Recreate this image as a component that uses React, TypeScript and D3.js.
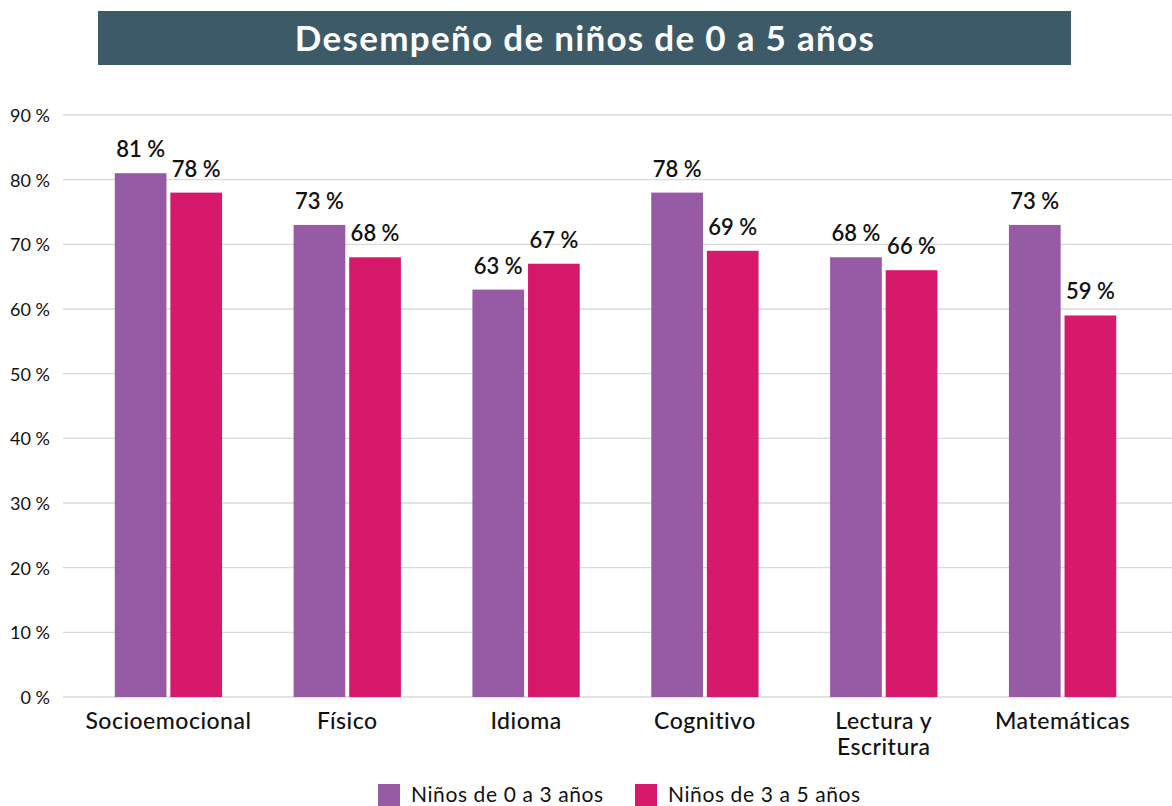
import React, { useEffect, useRef } from "react";
import * as d3 from "d3";

// Chart data
const categories = ["Socioemocional", "Físico", "Idioma", "Cognitivo", "Lectura y|Escritura", "Matemáticas"];
const series = ["Niños de 0 a 3 años", "Niños de 3 a 5 años"];
const values03 = [81, 73, 63, 78, 68, 73];
const values35 = [78, 68, 67, 69, 66, 59];
const yTicks = [0, 10, 20, 30, 40, 50, 60, 70, 80, 90];
const colors = ["#975ba6", "#d7196b"];

const FONT = "Lato, 'Open Sans', sans-serif";

const App: React.FC = () => {
  const ref = useRef<SVGSVGElement | null>(null);

  useEffect(() => {
    const svg = d3.select(ref.current);
    svg.selectAll("*").remove();

    const gridLeft = 63,
      gridRight = 1172;

    const rows = categories.map((c, i) => ({ cat: c, vals: [values03[i], values35[i]] }));

    const x0 = d3.scaleBand().domain(categories).range([79, 1152]).paddingInner(0.4).paddingOuter(0.2);
    const x1 = d3.scaleBand().domain(series).range([0, x0.bandwidth()]).paddingInner(0.07);
    const y = d3.scaleLinear().domain([0, 90]).range([697, 115]);

    // Title banner
    svg.append("rect").attr("x", 98).attr("y", 11).attr("width", 973).attr("height", 54).attr("fill", "#3d5a68");
    svg
      .append("text")
      .attr("x", 585)
      .attr("y", 51)
      .attr("text-anchor", "middle")
      .attr("fill", "#fff")
      .attr("font-family", FONT)
      .attr("font-weight", 700)
      .attr("font-size", 35)
      .attr("letter-spacing", 1.3)
      .text("Desempeño de niños de 0 a 5 años");

    // Gridlines + y labels
    const grid = svg.append("g");
    grid
      .selectAll("line")
      .data(yTicks)
      .enter()
      .append("line")
      .attr("x1", gridLeft)
      .attr("x2", gridRight)
      .attr("y1", (d) => y(d))
      .attr("y2", (d) => y(d))
      .attr("stroke", "#d9d9d9")
      .attr("stroke-width", 1.3);
    grid
      .selectAll("text")
      .data(yTicks)
      .enter()
      .append("text")
      .attr("x", 50)
      .attr("y", (d) => y(d) + 7)
      .attr("text-anchor", "end")
      .attr("font-family", FONT)
      .attr("font-size", 18)
      .attr("fill", "#111")
      .text((d) => `${d} %`);

    // Bars
    const groups = svg
      .append("g")
      .selectAll("g")
      .data(rows)
      .enter()
      .append("g")
      .attr("transform", (d) => `translate(${x0(d.cat)},0)`);

    groups
      .selectAll("rect")
      .data((d) => d.vals.map((v, i) => ({ v, s: series[i], i })))
      .enter()
      .append("rect")
      .attr("x", (d) => x1(d.s) || 0)
      .attr("y", (d) => y(d.v))
      .attr("width", x1.bandwidth())
      .attr("height", (d) => y(0) - y(d.v))
      .attr("fill", (d) => colors[d.i]);

    groups
      .selectAll("text")
      .data((d) => d.vals.map((v, i) => ({ v, s: series[i], i })))
      .enter()
      .append("text")
      .attr("x", (d) => (x1(d.s) || 0) + x1.bandwidth() / 2)
      .attr("y", (d) => y(d.v) - 16)
      .attr("text-anchor", "middle")
      .attr("font-family", FONT)
      .attr("font-weight", 600)
      .attr("font-size", 22)
      .attr("fill", "#111")
      .text((d) => `${d.v} %`);

    // Category labels (one text per line)
    const cl = svg.append("g");
    rows.forEach((r) => {
      const cx = (x0(r.cat) || 0) + x0.bandwidth() / 2;
      r.cat.split("|").forEach((line, k) => {
        cl.append("text")
          .attr("x", cx)
          .attr("y", 729 + k * 26)
          .attr("text-anchor", "middle")
          .attr("font-family", FONT)
          .attr("font-weight", 500)
          .attr("font-size", 23)
          .attr("letter-spacing", 0.5)
          .attr("fill", "#111")
          .text(line);
      });
    });

    // Legend
    const legendX = [378, 635];
    const lg = svg.append("g");
    series.forEach((s, i) => {
      lg.append("rect").attr("x", legendX[i]).attr("y", 784).attr("width", 22).attr("height", 22).attr("fill", colors[i]);
      lg.append("text")
        .attr("x", legendX[i] + 33)
        .attr("y", 802)
        .attr("font-family", FONT)
        .attr("font-size", 21)
        .attr("letter-spacing", 0.6)
        .attr("fill", "#111")
        .text(s);
    });
  }, []);

  return (
    <svg
      ref={ref}
      width={1172}
      height={806}
      style={{ position: "absolute", left: 0, top: 0, background: "#fff" }}
    ></svg>
  );
};

export default App;
